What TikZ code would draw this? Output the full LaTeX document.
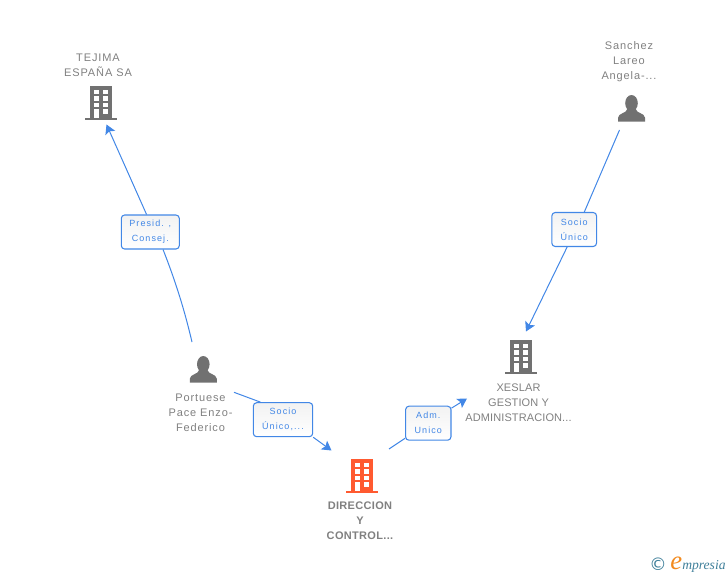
\documentclass[tikz,border=0pt]{standalone}
\usepackage{fontspec}
\usepackage{xcolor}
\usetikzlibrary{arrows.meta}
\newfontfamily\namefont[LetterSpace=8]{Liberation Sans}
\newfontfamily\capsnamefont[LetterSpace=1]{Liberation Sans}
\newfontfamily\boldnamefont[LetterSpace=3]{Liberation Sans Bold}
\newfontfamily\rolefont[LetterSpace=12]{Liberation Sans}
\newfontfamily\logofont{Liberation Serif Italic}
\newfontfamily\copyfont{DejaVu Sans}
\definecolor{iconGray}{HTML}{717171}
\definecolor{iconOrange}{HTML}{FF5A30}
\definecolor{textGray}{HTML}{808080}
\definecolor{linkBlue}{HTML}{4287E6}
\definecolor{logoTeal}{HTML}{3F7F9A}
\definecolor{logoOrange}{HTML}{F28A1E}
\tikzstyle{namenode}=[textGray, align=center, inner sep=0pt, font=\namefont\fontsize{8.25}{11.25}\selectfont]
\tikzstyle{capsnode}=[namenode, font=\capsnamefont\fontsize{8.25}{11.25}\selectfont]
\tikzstyle{mainnode}=[namenode, font=\boldnamefont\fontsize{8.25}{11.25}\selectfont]
\tikzstyle{rolenode}=[linkBlue, draw=linkBlue, line width=0.8pt, rounded corners=2.5pt, top color=black!5, bottom color=white, align=center, inner sep=0pt, minimum height=25.5pt, execute at begin node={\rule{0pt}{9pt}}, font=\rolefont\fontsize{6.75}{11.25}\selectfont]
\tikzstyle{linkline}=[draw=linkBlue, line width=0.75pt]
\tikzstyle{linkarrow}=[linkline, -{Stealth[length=7pt, width=8pt, inset=1.5pt]}]
\tikzset{
  pics/buildingicon/.style={code={
    \fill[pic actions] (-11,-34) rectangle (11,-2.5);
    \fill[pic actions] (-16,-2.5) rectangle (16,0);
    \foreach \ya/\yb in {-30/-25.7, -23.7/-19, -17/-12.7} {
      \fill[white] (-7.3,\ya) rectangle (-2.3,\yb);
      \fill[white] (2.3,\ya) rectangle (7.3,\yb);
    }
    \fill[white] (-7.3,-10.7) rectangle (-2.3,-2.5);
    \fill[white] (2.3,-10.7) rectangle (7.3,-6);
  }},
  pics/personicon/.style={code={
    \fill[iconGray] (0,-18.5) ellipse [x radius=6.3, y radius=8.2];
    \fill[iconGray] (-13.5,0) -- (-13.5,-4) .. controls (-13,-9) and (-5,-8) .. (-4,-13)
      -- (4,-13) .. controls (5,-8) and (13,-9) .. (13.5,-4) -- (13.5,0) -- cycle;
  }}
}
\begin{document}
\begin{tikzpicture}[x=0.75pt, y=-0.75pt]
\useasboundingbox (0,0) rectangle (728,575);

\pic [fill=iconGray] at (101,120) {buildingicon};
\pic [fill=iconGray] at (521,374) {buildingicon};
\pic [fill=iconOrange] at (362,493) {buildingicon};
\pic at (203.3,382.7) {personicon};
\pic at (631.5,121.7) {personicon};

\node [namenode] (tejima) at (98,65.5) {TEJIMA\\ESPAÑA SA};
\node [namenode] (sanchez) at (629,61.5) {Sanchez\\Lareo\\Angela-...};
\node [namenode] (portuese) at (200.5,413) {Portuese\\Pace Enzo-\\Federico};
\node [capsnode] (xeslar) at (518.5,403) {XESLAR\\GESTION Y\\ADMINISTRACION...};
\node [mainnode] (direccion) at (360,521) {DIRECCION\\Y\\CONTROL...};

\node [rolenode, minimum width=43.5pt] (presid) at (150.3,232) {Presid. ,\\Consej.};
\node [rolenode, minimum width=33.5pt] (socio) at (574.2,229.5) {Socio\\Único};
\node [rolenode, minimum width=44.5pt] (sociodir) at (283,419.7) {Socio\\Único,...};
\node [rolenode, minimum width=34pt] (adm) at (428.3,423.2) {Adm.\\Unico};

\coordinate (portuesefrom) at (192,342);
\coordinate (tejimato) at (106.5,124.5);
\coordinate (sanchezfrom) at (619.5,130);
\coordinate (xeslarto) at (526,331.5);
\coordinate (portuesedir) at (234,392.3);
\coordinate (direccionto) at (331.5,450.5);
\coordinate (direccionfrom) at (389,449);
\coordinate (xeslarin) at (467,398.5);

\draw[linkline] (portuesefrom) .. controls (184,308) and (175,280) .. (presid.-54);
\draw[linkarrow] (presid.102) -- (tejimato);
\draw[linkline] (sanchezfrom) -- (socio.60);
\draw[linkarrow] (socio.248) -- (xeslarto);
\draw[linkline] (portuesedir) -- (sociodir.142);
\draw[linkarrow] (sociodir.south east) -- (direccionto);
\draw[linkline] (direccionfrom) -- (adm.213);
\draw[linkarrow] (adm.33) -- (xeslarin);

\node [logoTeal, inner sep=0pt, font=\copyfont\fontsize{13}{13}\selectfont] (copyright) at (658,564) {©};
\node [logoOrange, inner sep=0pt, anchor=base west, font=\logofont\fontsize{20}{20}\selectfont] (logoe) at (670,569) {e};
\node [logoTeal, inner sep=0pt, anchor=base west, font=\logofont\fontsize{10.2}{11}\selectfont] (logotext) at (682,569) {mpresia};
\end{tikzpicture}
\end{document}
